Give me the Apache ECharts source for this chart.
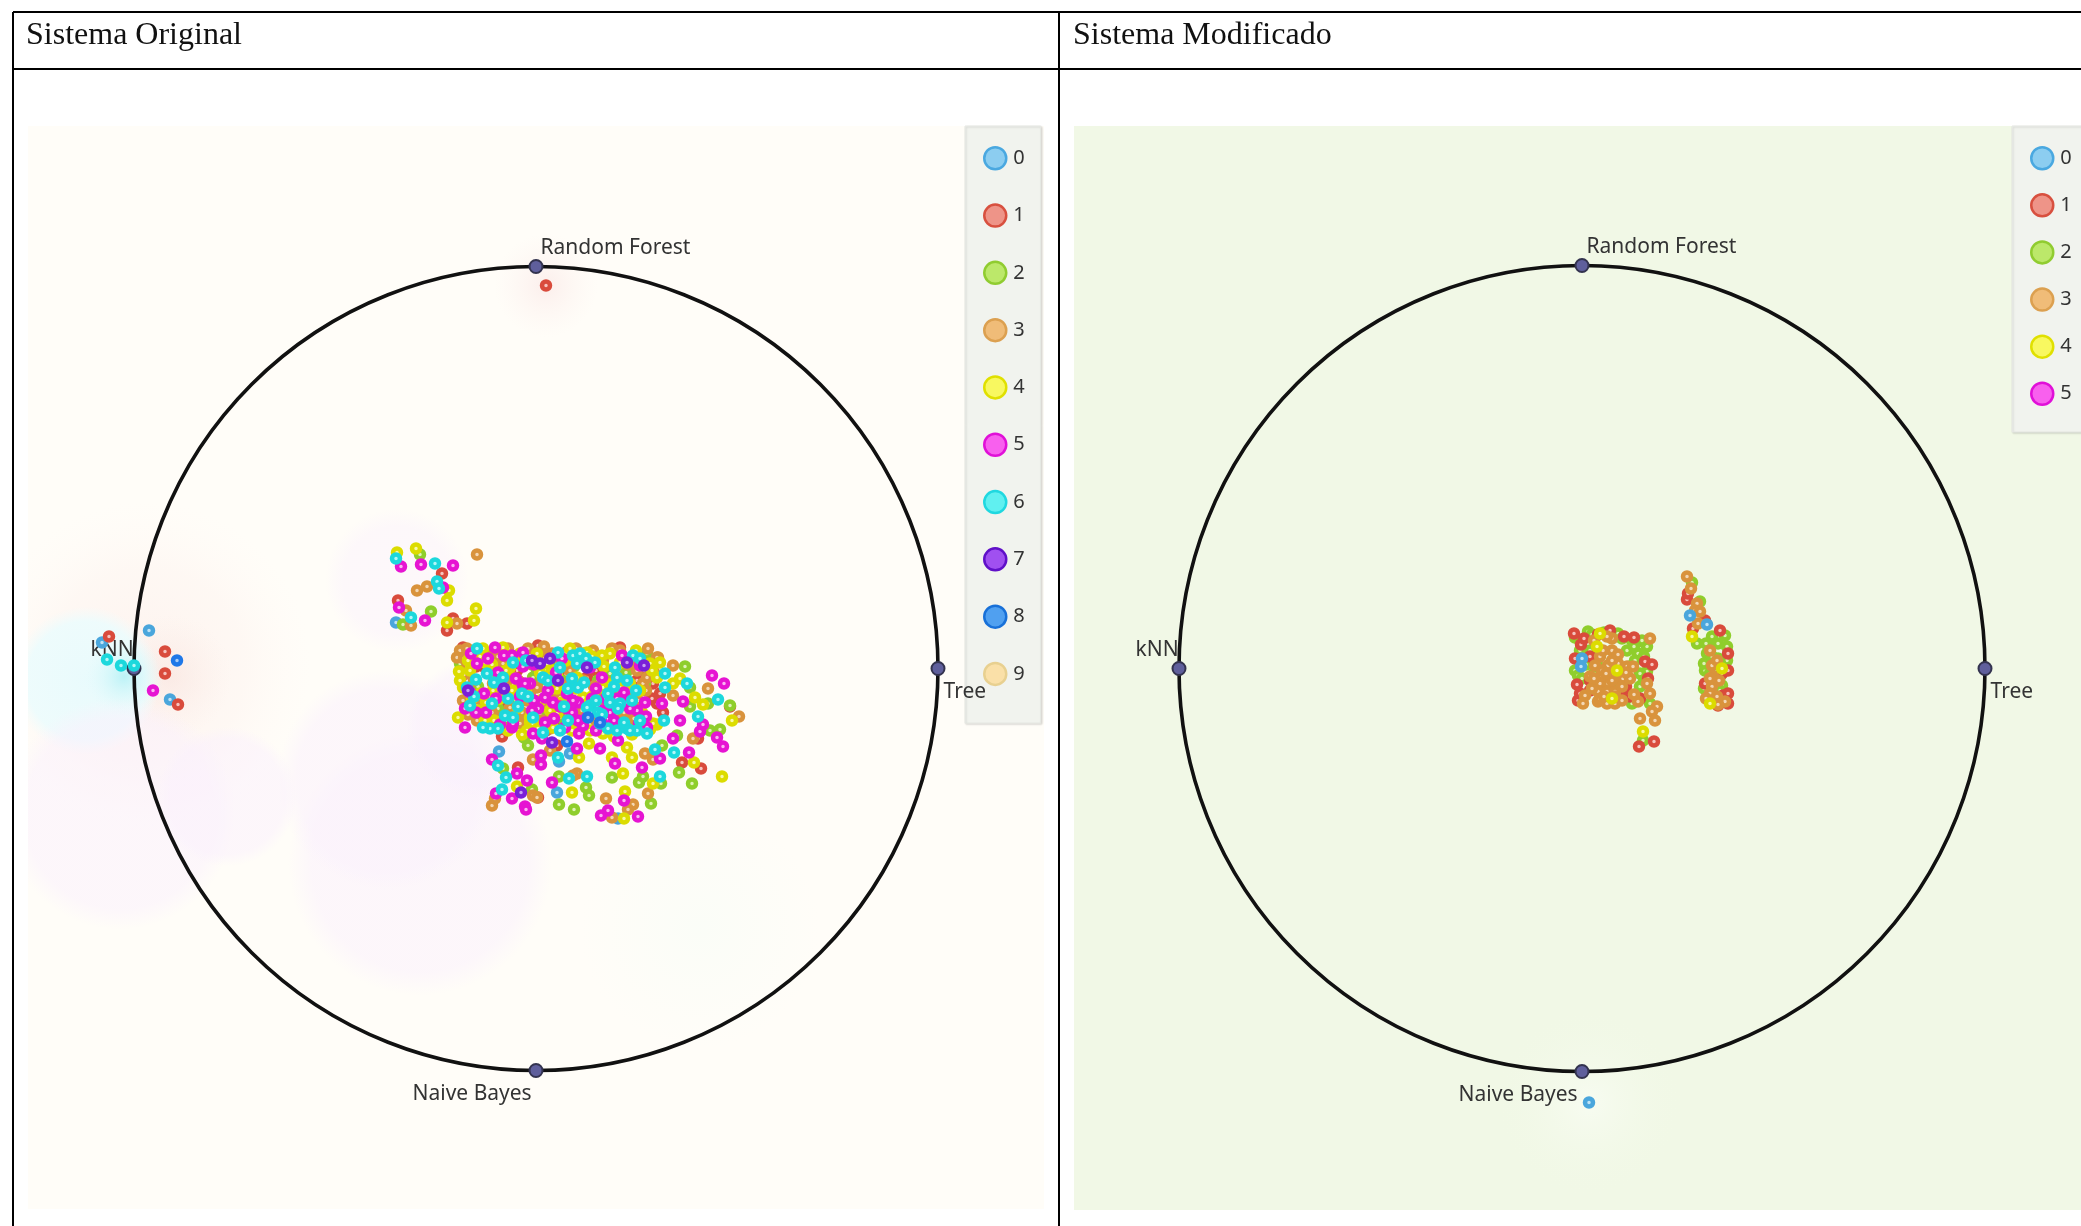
<!DOCTYPE html>
<html>
<head>
<meta charset="utf-8">
<style>
html,body{margin:0;padding:0;background:#fff;}
#chart{width:2081px;height:1226px;filter:blur(0.5px);}
</style>
<script src="https://cdn.jsdelivr.net/npm/echarts@6/dist/echarts.min.js"></script>
</head>
<body>
<div id="chart"></div>
<script>
// ---------- data (radial projection units, circle centre = 0,0) ----------
const panelTitles = ['Sistema Original', 'Sistema Modificado'];
const classNamesLeft = ['0','1','2','3','4','5','6','7','8','9'];
const classNamesRight = ['0','1','2','3','4','5'];
const anchorNames = ['Random Forest', 'kNN', 'Tree', 'Naive Bayes'];
const leftRadius = 402;
const rightRadius = 403;
const leftAnchors = [[0,402],[-402,0],[402,0],[0,-402]];
const rightAnchors = [[0,403],[-403,0],[403,0],[0,-403]];

const left0 = [[-434,26],[-387,38],[-366,-31],[-140,46],[-37,-83],[34,-85],[23,-93],[21,-124],[82,-150]];
const left1 = [[10,383],[-427,32],[-371,17],[-371,-5],[-358,-36],[-94,95],[-138,68],[-83,50],[-69,45],[-89,38],
 [-34,-68],[21,-77],[-18,-99],[2,-129],[146,-94],[165,-100],[162,-70],[127,-44],[194,-38],
 [2,23],[-19,-2],[-26,-4],[-73,21],[-39,-19],[21,-59],[117,-15],[124,-25],[121,-35],[51,-9],[1,-45],[-51,1],[84,21],[101,-12],
 [-60,2],[-16,-14],[12,-14],[-44,-6],[30,-6],[60,-2],[78,-6],[108,-2],[116,-30],[-30,-38],[10,-62]];
const left2 = [[-116,114],[-105,57],[-133,44],
 [-8,-77],[-12,-69],[-33,-100],[-4,-121],[23,-108],[50,-119],[53,-127],[23,-136],[38,-141],[76,-109],[103,-114],[107,-108],[125,-115],[115,-135],[156,-115],[143,-104],[126,-77],[174,-62],[184,-61],[194,-37],[172,-35],[154,-38],[149,2],[154,-19],[141,-67],
 [1,-2],[-3,-9],[21,5],[-13,-52],[111,15],[109,-15],[-49,-52],[74,-5],[47,15],[-31,-59],[24,-49],[-76,5],[94,-52],[41,-55],[81,-22],[17,-15],
 [-36,-12],[-4,4],[8,-18],[-20,-32],[26,-12],[38,2],[62,-12],[90,-4],[100,-30],[-58,-18],[-38,-40],[4,-46]];
const left3 = [[-59,114],[-119,78],[-109,82],[-130,58],[-125,43],[-79,45],
 [-3,-91],[41,-105],[37,-107],[-3,-127],[1,-129],[-44,-137],[-41,-130],[70,-130],[112,-125],[97,-136],[92,-141],[76,-149],[117,-91],[109,-85],[157,-70],[172,-20],[203,-48],[137,3],[122,11],[137,-27],[14,-82],
 [-76,18],[-69,20],[-43,-15],[-51,-52],[-3,-60],[4,16],[16,15],[-23,-9],[11,-39],[34,-2],[-16,-55],[-69,1],[101,-2],[107,-15],[97,-25],[67,8],[47,-12],[-39,-49],[14,-49],[-73,-32],[84,18],[57,18],[121,11],[-59,-52],[1,-19],[24,-29],[61,-25],[81,-52],[111,-9],[-33,5],[-53,-39],[37,-49],[-79,11],[-9,-32],[-26,-39],
 [-72,10],[-62,14],[-47,14],[-38,12],[-28,20],[-18,8],[-8,20],[8,22],[24,10],[30,16],[40,20],[60,10],[76,20],[92,4],[98,10],[112,20],[118,-4],[110,-22],[102,-32],[92,-22],[72,-14],[58,-18],[34,-14],[18,-24],[6,-8],[-6,-24],[-18,-12],[-30,-16],[-46,-28],[-62,-12],[-72,-6],[-60,-30],[-44,-44],[-36,-56],[-14,-44],[6,-52],[14,-60],[30,-40],[46,-42],[70,-36],[88,-44],[98,-50],[28,-18],[60,-52],[-68,-46]];
const left4 = [[-139,116],[-120,120],[-87,78],[-89,68],[-60,60],[-62,48],[-89,46],
 [43,-89],[53,-75],[91,-79],[96,-89],[76,-89],[87,-105],[117,-115],[36,-124],[89,-123],[88,-150],[-19,-118],[158,-94],[186,-108],[121,-56],[196,-52],[159,-29],[167,-36],[137,-15],[144,-10],[114,-61],
 [-77,-3],[-78,-49],[-51,6],[-58,-42],[-6,-54],[-3,-55],[11,-9],[21,-5],[66,13],[74,15],[114,5],[124,6],[-66,-2],[-51,-52],[-16,15],[-33,21],[-53,20],[34,20],[51,16],[-18,-39],[41,-9],[67,-65],[21,-45],[-6,-49],[-39,-9],[-26,1],[54,-62],[17,-59],[104,-22],[84,-19],[117,-55],[121,-9],[-19,-25],[11,5],[34,-37],[67,-19],[94,-15],[-43,-22],[1,15],[-73,-19],[21,-20],[47,-29],[-56,-25],[-9,-62],
 [-76,-12],[-68,8],[-56,12],[-44,4],[-30,-2],[-20,10],[-8,6],[4,-4],[16,-2],[30,8],[44,8],[56,12],[68,2],[84,6],[100,18],[116,-2],[-64,-30],[-50,-34],[-36,-30],[-24,-22],[-10,-22],[4,-32],[14,-42],[26,-34],[40,-20],[56,-28],[74,-16],[88,-26],[106,-44],[-42,-52],[-28,-62],[-14,-66],[2,-60],[36,-62],[78,-68],[96,-66]];
const left5 = [[-383,-22],[-135,102],[-115,104],[-83,103],[-93,81],[-137,61],[-111,48],
 [-44,-91],[5,-87],[5,-96],[-19,-105],[-9,-112],[-40,-125],[-24,-130],[-11,-138],[-10,-141],[16,-114],[64,-80],[41,-80],[79,-95],[106,-99],[88,-132],[72,-142],[65,-147],[102,-148],[124,-90],[137,-70],[153,-84],[181,-69],[187,-78],[164,-63],[167,-56],[144,-52],[176,-7],[188,-15],[147,-33],[126,-35],[82,-72],
 [-41,21],[-65,15],[-32,13],[-13,16],[-24,13],[-59,5],[-13,2],[-38,-4],[-66,-24],[-52,-25],[-13,-17],[12,-22],[-33,-20],[-2,-32],[2,-40],[-71,-40],[-71,-59],[-24,-59],[-23,-55],[9,-54],[29,-59],[43,-65],[60,-62],[-3,-65],[6,-70],[31,-40],[42,-34],[51,-49],[47,-57],[42,-52],[66,-9],[54,1],[91,-34],[109,-34],[101,-42],[103,-55],[111,-59],[86,13],[104,3],[74,-44],[67,-42],[-6,-15],[-11,-15],[17,-34],[9,-29],[31,-25],[37,-32],[81,-30],
 [-48,10],[-60,-44],[-50,-44],[-36,-56],[-16,-28],[-4,-42],[18,-50],[24,-38],[36,-44],[56,-30],[70,-30],[60,-20],[78,-52],[94,-40],[88,-24],[110,-48],[20,-4],[-2,4],[-40,-30],[-20,-10],[26,10],[66,-54]];
const left6 = [[-429,9],[-415,3],[-402,3],[-140,110],[-101,105],[-125,51],[-99,87],[-97,80],
 [-38,-97],[-30,-109],[-34,-121],[22,-89],[33,-110],[51,-108],[119,-81],[138,-84],[124,-108],[162,-48],[182,-31],[151,-15],[129,-5],[129,-19],[128,-52],
 [-59,20],[-23,6],[-33,-9],[-49,-5],[-60,-11],[-69,-19],[-44,-35],[-31,-47],[-23,-49],[-28,-30],[-14,-25],[22,16],[37,13],[44,15],[41,5],[59,6],[79,1],[81,-9],[91,-12],[97,13],[104,10],[36,-10],[42,-19],[32,-20],[72,-25],[74,-34],[96,-32],[84,-35],[82,-40],[54,-37],[62,-44],[32,-52],[7,-64],[24,-62],[64,-55],[72,-60],[81,-62],[91,-60],[101,-62],[104,-52],[-46,-60],[-53,-59],[-66,-37],[7,-9],[24,1],[-3,-49],[51,-39],[111,-65],
 [-62,-28],[-42,-14],[-18,-38],[-8,-28],[12,-12],[28,-38],[48,-14],[60,-32],[78,-18],[66,-46],[88,-54],[100,-22],[94,-62],[-38,-60],[-10,8],[50,10]];
const left7 = [[-15,-124],[16,-74],[-4,8],[4,5],[14,10],[22,-12],[-32,-20],[-68,-22],[91,6],[108,3],[51,1]];
const left8 = [[-359,8],[31,-73],[52,-49],[64,-54]];
const left9 = [];

const right0 = [[7,-434],[108,53],[125,44],[0,10],[-1,2]];
const right1 = [[-8,35],[-1,24],[52,31],[-7,10],[-5,-16],[-4,-32],[8,-12],[63,7],[70,4],[41,-21],[48,-28],[8,-22],[105,69],[106,75],[111,40],[123,48],[146,15],[141,-27],[123,-15],[140,-5],[136,-37],[57,-78],[72,-73],[138,38],[146,-35],[8,12],[28,38],
 [42,32],[66,-10],[58,-30],[-2,-25],[44,-18],[2,30],[16,34],[146,-2],[146,-25]];
const right2 = [[6,37],[-7,31],[36,35],[58,20],[65,22],[56,15],[15,4],[65,-3],[58,-18],[50,-35],[68,-35],[61,-72],[110,86],[118,67],[115,25],[130,32],[143,33],[125,15],[136,10],[123,-2],[140,-17],[130,-25],[138,-22],[15,-7],[50,28],[45,18],[53,8],[-7,-2],[-4,-7],[8,18],
 [-2,28],[10,34],[22,36],[40,30],[60,28],[52,22],[62,12],[48,2],[58,-5],[62,-12],[44,-28],[54,-28],[0,-10],[4,4],[-2,18],[12,-5],[30,-15],
 [124,25],[136,25],[145,22],[122,5],[145,8],[128,-5],[138,-8],[122,-20],[144,-25],[138,5],[130,12]];
const right3 = [[18,-15],[26,-15],[16,-23],[25,-23],[33,-23],[16,-33],[25,-35],[33,-35],[20,-7],[26,3],[36,5],[30,18],[18,12],[45,2],[41,-10],[30,-7],[68,30],[51,2],[65,-15],[68,-25],[75,-38],[70,-43],[58,-50],[73,-52],[3,-27],[1,-35],[30,30],[25,32],[33,-28],[56,-33],[13,3],[21,18],[38,-3],[18,-30],[8,-8],
 [105,92],[109,80],[115,65],[113,58],[118,57],[116,45],[128,18],[130,3],[131,-8],[130,-18],[135,8],[128,-25],[143,-33],[135,-28],
 [12,28],[20,-2],[30,8],[10,-20],[40,-18],[48,-10],[22,-28],[30,-12],[40,-32],[12,-10],[52,-26],[36,14],[24,-5],[44,-4],
 [137,-12],[128,-10],[124,-30],[136,-36]];
const right4 = [[18,35],[35,-2],[15,22],[61,-63],[110,32],[128,-35],[140,0],[30,-30]];
const right5 = [];

const leftSets = [left0,left1,left2,left3,left4,left5,left6,left7,left8,left9];
const rightSets = [right0,right1,right2,right3,right4,right5];

// soft probability shading: x, y, radius
const leftTints = [[-390,2,165],[-366,-8,62],[-450,-12,74],[-412,-8,40],[-116,-195,132],[-149,-111,110],[-60,-60,70],[-416,-145,116],[-309,-128,70],[-139,88,72],[10,383,52],[164,-260,120]];
const rightTints = [[7,-434,95]];

// ---------- styles ----------
const ringColors = ['#4aa6dc','#d94b3c','#8fce2c','#d9933c','#dcdc00','#e614d2','#1cd8dc','#7a20d8','#1f78e8','#eed49c'];
const ringFills  = ['#bfe3f5','#f5c4be','#dff2b8','#f3d8b4','#f8f8a8','#fbb4f2','#b4f6f6','#c8a0f2','#a8ccf6','#fbeccb'];
const legendFills = ['#8ccdf0','#ee9488','#bce86a','#f0bc78','#f8f860','#f860ee','#60f0f0','#a050f0','#50a0f0','#fae0a8'];
const legendBorders = ['#4aa8e0','#d8503f','#90cc30','#dca050','#e0e000','#e010d8','#20d8e0','#6010c8','#1870d8','#e8d090'];
const rightStack = [20,12,11,14,15,16];
const lav = a => 'rgba(250,240,253,' + a + ')';
const lavStops = [[0,lav(.5)],[.82,lav(.5)],[1,lav(0)]];
const leftTintStyles = [
  [[0,'rgba(252,236,232,.6)'],[.6,'rgba(253,242,238,.45)'],[1,'rgba(255,248,245,0)']],
  [[0,'rgba(248,226,220,.55)'],[1,'rgba(250,235,230,0)']],
  [[0,'rgba(232,251,253,.95)'],[.8,'rgba(236,252,253,.9)'],[1,'rgba(240,252,253,0)']],
  [[0,'rgba(175,240,245,.8)'],[1,'rgba(225,250,252,0)']],
  lavStops, lavStops, lavStops, lavStops, lavStops,
  [[0,lav(.4)],[.75,lav(.4)],[1,lav(0)]],
  [[0,'rgba(250,232,230,.7)'],[1,'rgba(253,242,240,0)']],
  [[0,'rgba(248,253,247,.6)'],[1,'rgba(248,253,247,0)']]
];
const rightTintStyles = [[[0,'rgba(248,252,242,.9)'],[1,'rgba(241,248,230,0)']]];
const anchorLabelPos = {
  left:  [[12,-11],[-36,-11],[13,31],[-116,31]],
  right: [[12,-11],[-36,-11],[13,31],[-116,31]]
};
const labelFont = {fontFamily:'"Noto Sans"', fontSize:21, color:'#333'};

function tintSeries(data, styles, gi, name){
  return {type:'custom', name, xAxisIndex:gi, yAxisIndex:gi, coordinateSystem:'cartesian2d', clip:true, silent:true, z:1,
    data, renderItem(p, api){
      const c = api.coord([api.value(0), api.value(1)]);
      const r = api.size([api.value(2), api.value(2)])[0];
      return {type:'circle', shape:{cx:c[0], cy:c[1], r},
        style:{fill:new echarts.graphic.RadialGradient(.5,.5,.5, styles[p.dataIndex].map(s=>({offset:s[0],color:s[1]})))}};
    }};
}
function ringSeries(radius, gi, name){
  return {type:'custom', name, xAxisIndex:gi, yAxisIndex:gi, coordinateSystem:'cartesian2d', silent:true, z:3,
    data:[[0,0,radius]], renderItem(p, api){
      const c = api.coord([api.value(0), api.value(1)]);
      const r = api.size([api.value(2), api.value(2)])[0];
      return {type:'circle', shape:{cx:c[0], cy:c[1], r}, style:{fill:'none', stroke:'#111', lineWidth:3.6}};
    }};
}
function anchorSeries(points, pos, gi, name){
  return {type:'scatter', name, xAxisIndex:gi, yAxisIndex:gi, silent:true, z:4, symbol:'circle', symbolSize:13,
    itemStyle:{color:'#5f5f9c', borderColor:'#33334f', borderWidth:2, opacity:1},
    data:points.map((v,i)=>({value:v, name:anchorNames[i],
      label:{show:true, formatter:anchorNames[i], position:pos[i], align:'left', verticalAlign:'middle', ...labelFont}}))};
}
function classSeries(names, sets, gi, zFor){
  return names.map((n,i)=>({type:'scatter', name:n, xAxisIndex:gi, yAxisIndex:gi, silent:true, z:zFor(i),
    symbol:'circle', symbolSize:8, clip:false,
    itemStyle:{color:ringFills[i], borderColor:ringColors[i], borderWidth:4.5, opacity:1},
    data:sets[i]}));
}
function legendOf(names, extra){
  return Object.assign({show:true, orient:'vertical', icon:'circle', itemWidth:22, itemHeight:22, selectedMode:false, z:2,
    backgroundColor:'#f1f3ee', borderColor:'#e6e8e3', borderWidth:1, shadowColor:'rgba(0,0,0,.14)', shadowBlur:2, shadowOffsetX:1, shadowOffsetY:1,
    textStyle:{fontFamily:'"Noto Sans"', fontSize:20, color:'#333', padding:[0,0,0,2]},
    data:names.map((n,i)=>({name:n, itemStyle:{color:legendFills[i], borderColor:legendBorders[i], borderWidth:2.5, opacity:1}}))}, extra);
}

const chart = echarts.init(document.getElementById('chart'), null, {renderer:'canvas'});
const titleStyle = {fontFamily:'"Liberation Serif"', fontSize:32, fontWeight:'normal', color:'#111'};
chart.setOption({
  animation:false,
  backgroundColor:'#fff',
  title:[
    {text:panelTitles[0], left:21, top:15, textStyle:titleStyle},
    {text:panelTitles[1], left:1068, top:15, textStyle:titleStyle}
  ],
  grid:[
    {left:28, top:126, width:1016, height:1083, show:true, backgroundColor:'#fffdf8', borderWidth:0},
    {left:1074, top:126, width:1007, height:1084, show:true, backgroundColor:'#f1f8e6', borderWidth:0}
  ],
  xAxis:[
    {type:'value', gridIndex:0, min:-508, max:508, show:false},
    {type:'value', gridIndex:1, min:-508, max:499, show:false}
  ],
  yAxis:[
    {type:'value', gridIndex:0, min:-540.5, max:542.5, show:false},
    {type:'value', gridIndex:1, min:-541.5, max:542.5, show:false}
  ],
  legend:[
    legendOf(classNamesLeft, {left:965, top:126, itemGap:32.8, padding:[20,16,37,18]}),
    legendOf(classNamesRight, {left:2012, top:126, itemGap:22.6, padding:[20,40,26,18]})
  ],
  graphic:[
    {type:'line', shape:{x1:13,y1:12,x2:2081,y2:12}, style:{stroke:'#000',lineWidth:2}, z:100},
    {type:'line', shape:{x1:13,y1:69,x2:2081,y2:69}, style:{stroke:'#000',lineWidth:2}, z:100},
    {type:'line', shape:{x1:13,y1:12,x2:13,y2:1226}, style:{stroke:'#000',lineWidth:2}, z:100},
    {type:'line', shape:{x1:1059,y1:12,x2:1059,y2:1226}, style:{stroke:'#000',lineWidth:2}, z:100}
  ],
  series:[
    tintSeries(leftTints, leftTintStyles, 0, 'tint-left'),
    tintSeries(rightTints, rightTintStyles, 1, 'tint-right'),
    ringSeries(leftRadius, 0, 'circle-left'),
    ringSeries(rightRadius, 1, 'circle-right'),
    anchorSeries(leftAnchors, anchorLabelPos.left, 0, 'anchors-left'),
    anchorSeries(rightAnchors, anchorLabelPos.right, 1, 'anchors-right'),
    ...classSeries(classNamesLeft, leftSets, 0, i=>10+i),
    ...classSeries(classNamesRight, rightSets, 1, i=>rightStack[i])
  ]
});
</script>
</body>
</html>
